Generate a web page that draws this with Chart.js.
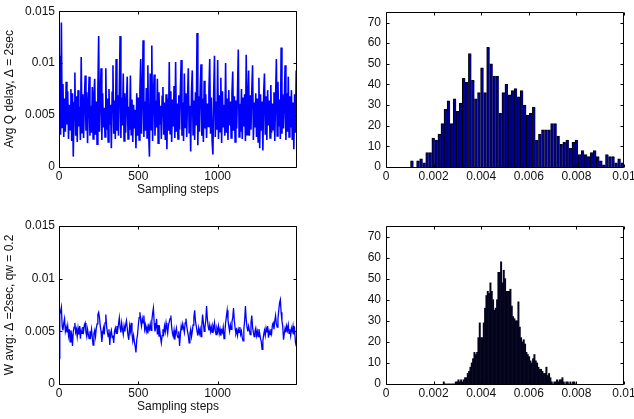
<!DOCTYPE html>
<html><head><meta charset="utf-8">
<script src="https://cdn.jsdelivr.net/npm/chart.js@4.4.1/dist/chart.umd.min.js"></script>
<style>
html,body{margin:0;padding:0;background:#fff;width:634px;height:419px;overflow:hidden;position:relative}
canvas{position:absolute}
</style></head><body>
<canvas id="tl" width="320" height="200" style="left:0;top:0"></canvas>
<canvas id="tr" width="330" height="200" style="left:320px;top:0"></canvas>
<canvas id="bl" width="320" height="209" style="left:0;top:210px"></canvas>
<canvas id="br" width="330" height="209" style="left:320px;top:210px"></canvas>
<script>
// ---------- DATA ----------
const STEP_STRIDE = 5; // each stored sample represents 5 sampling steps
const TIME_MAX = 1500;
const timeTicks = [0, 500, 1000];
const timeTickLabels = ['0', '500', '1000'];
const delayTicks = [0, 0.005, 0.01, 0.015];
const delayTickLabels = ['0', '0.005', '0.01', '0.015'];
const histXTicks = [0, 0.002, 0.004, 0.006, 0.008, 0.01];
const histXTickLabels = ['0', '0.002', '0.004', '0.006', '0.008', '0.01'];
const histYTicks = [0, 10, 20, 30, 40, 50, 60, 70];
const histYTickLabels = ['0', '10', '20', '30', '40', '50', '60', '70'];

const avgQDelay = [
0.0052,0.0107,0.0031,0.0139,0.0038,0.0080,0.0029,0.0066,0.0034,0.0082,
0.0041,0.0073,0.0027,0.0060,0.0036,0.0075,0.0025,0.0071,0.0010,0.0062,
0.0091,0.0030,0.0068,0.0024,0.0074,0.0039,0.0058,0.0026,0.0106,0.0033,
0.0070,0.0028,0.0064,0.0088,0.0035,0.0072,0.0023,0.0061,0.0087,0.0030,
0.0059,0.0033,0.0077,0.0027,0.0069,0.0085,0.0031,0.0063,0.0022,0.0074,
0.0126,0.0034,0.0068,0.0095,0.0026,0.0071,0.0038,0.0057,0.0029,0.0095,
0.0036,0.0066,0.0024,0.0075,0.0041,0.0060,0.0018,0.0072,0.0098,0.0032,
0.0064,0.0027,0.0104,0.0035,0.0069,0.0030,0.0073,0.0126,0.0028,0.0067,
0.0040,0.0090,0.0025,0.0071,0.0033,0.0062,0.0087,0.0027,0.0058,0.0036,
0.0088,0.0031,0.0065,0.0024,0.0060,0.0037,0.0055,0.0018,0.0071,0.0030,
0.0067,0.0026,0.0074,0.0104,0.0032,0.0069,0.0122,0.0029,0.0063,0.0035,
0.0076,0.0028,0.0098,0.0033,0.0010,0.0090,0.0036,0.0117,0.0025,0.0070,
0.0089,0.0030,0.0064,0.0038,0.0085,0.0023,0.0072,0.0041,0.0059,0.0027,
0.0068,0.0077,0.0031,0.0062,0.0026,0.0070,0.0017,0.0066,0.0035,0.0101,
0.0032,0.0073,0.0024,0.0065,0.0039,0.0078,0.0028,0.0101,0.0034,0.0061,
0.0027,0.0069,0.0036,0.0074,0.0103,0.0030,0.0062,0.0025,0.0090,0.0038,
0.0071,0.0029,0.0065,0.0095,0.0033,0.0059,0.0015,0.0073,0.0093,0.0031,
0.0064,0.0026,0.0072,0.0040,0.0129,0.0021,0.0068,0.0034,0.0075,0.0099,
0.0030,0.0066,0.0024,0.0083,0.0037,0.0070,0.0028,0.0061,0.0039,0.0074,
0.0104,0.0032,0.0067,0.0025,0.0012,0.0071,0.0107,0.0029,0.0063,0.0036,
0.0103,0.0027,0.0069,0.0034,0.0086,0.0023,0.0073,0.0038,0.0060,0.0030,
0.0100,0.0033,0.0066,0.0026,0.0074,0.0040,0.0063,0.0028,0.0071,0.0092,
0.0035,0.0068,0.0024,0.0064,0.0037,0.0072,0.0113,0.0029,0.0061,0.0034,
0.0075,0.0027,0.0067,0.0039,0.0070,0.0025,0.0108,0.0031,0.0065,0.0093,
0.0030,0.0069,0.0036,0.0074,0.0098,0.0026,0.0062,0.0038,0.0071,0.0029,
0.0066,0.0024,0.0086,0.0018,0.0070,0.0035,0.0063,0.0016,0.0072,0.0090,
0.0031,0.0068,0.0026,0.0074,0.0040,0.0064,0.0028,0.0079,0.0033,0.0061,
0.0036,0.0072,0.0025,0.0067,0.0104,0.0030,0.0082,0.0039,0.0065,0.0027,
0.0115,0.0032,0.0070,0.0037,0.0063,0.0098,0.0026,0.0071,0.0034,0.0087,
0.0029,0.0068,0.0038,0.0074,0.0026,0.0062,0.0017,0.0070,0.0033,0.0093
];

const wAvgDelay = [
0.0024,0.0066,0.0069,0.0073,0.0055,0.0051,0.0058,0.0062,0.0050,0.0054,
0.0049,0.0055,0.0046,0.0052,0.0040,0.0051,0.0047,0.0036,0.0050,0.0054,
0.0058,0.0049,0.0052,0.0045,0.0053,0.0047,0.0055,0.0043,0.0051,0.0048,
0.0054,0.0050,0.0056,0.0058,0.0049,0.0045,0.0052,0.0047,0.0043,0.0050,
0.0046,0.0052,0.0044,0.0037,0.0048,0.0051,0.0045,0.0053,0.0057,0.0066,
0.0068,0.0063,0.0055,0.0050,0.0040,0.0048,0.0053,0.0047,0.0058,0.0066,
0.0055,0.0049,0.0045,0.0052,0.0037,0.0048,0.0051,0.0044,0.0046,0.0039,
0.0050,0.0053,0.0048,0.0055,0.0051,0.0057,0.0063,0.0054,0.0049,0.0058,
0.0052,0.0047,0.0055,0.0050,0.0056,0.0060,0.0053,0.0046,0.0042,0.0055,
0.0050,0.0058,0.0048,0.0041,0.0046,0.0040,0.0036,0.0030,0.0042,0.0047,
0.0056,0.0063,0.0068,0.0060,0.0055,0.0062,0.0058,0.0065,0.0052,0.0056,
0.0050,0.0054,0.0048,0.0055,0.0052,0.0057,0.0051,0.0060,0.0067,0.0072,
0.0058,0.0050,0.0054,0.0062,0.0047,0.0056,0.0045,0.0051,0.0044,0.0039,
0.0046,0.0052,0.0048,0.0055,0.0050,0.0058,0.0053,0.0048,0.0056,0.0059,
0.0062,0.0065,0.0054,0.0048,0.0045,0.0051,0.0042,0.0049,0.0053,0.0046,
0.0044,0.0050,0.0036,0.0047,0.0055,0.0051,0.0057,0.0053,0.0049,0.0058,
0.0062,0.0055,0.0050,0.0046,0.0039,0.0048,0.0052,0.0045,0.0050,0.0056,
0.0063,0.0070,0.0060,0.0055,0.0050,0.0046,0.0053,0.0048,0.0052,0.0045,
0.0055,0.0066,0.0058,0.0050,0.0054,0.0060,0.0074,0.0062,0.0055,0.0051,
0.0056,0.0050,0.0054,0.0049,0.0055,0.0052,0.0058,0.0051,0.0047,0.0053,
0.0050,0.0055,0.0048,0.0052,0.0046,0.0051,0.0049,0.0054,0.0043,0.0048,
0.0058,0.0064,0.0070,0.0061,0.0055,0.0050,0.0056,0.0052,0.0059,0.0063,
0.0072,0.0060,0.0053,0.0048,0.0051,0.0046,0.0052,0.0049,0.0054,0.0047,
0.0050,0.0044,0.0041,0.0052,0.0060,0.0074,0.0061,0.0054,0.0050,0.0055,
0.0051,0.0047,0.0058,0.0065,0.0054,0.0049,0.0045,0.0050,0.0053,0.0046,
0.0050,0.0045,0.0052,0.0048,0.0043,0.0040,0.0033,0.0041,0.0047,0.0051,
0.0046,0.0053,0.0049,0.0055,0.0044,0.0050,0.0047,0.0052,0.0048,0.0056,
0.0058,0.0052,0.0060,0.0065,0.0057,0.0054,0.0062,0.0070,0.0077,0.0080,
0.0068,0.0060,0.0055,0.0042,0.0048,0.0053,0.0049,0.0055,0.0051,0.0056,
0.0048,0.0052,0.0046,0.0053,0.0050,0.0055,0.0047,0.0051,0.0040,0.0036
];

const histTopStart = 0.00103, histTopWidth = 0.000128;
const histTopCounts = [
3,0,3,4,2,7,7,14,13,16,
21,28,32,21,33,27,31,43,41,55,
42,33,36,48,36,58,50,44,44,26,
36,40,35,37,38,34,37,30,25,26,
29,13,16,18,18,18,21,21,15,11,
12,13,9,12,13,6,8,6,5,7,
8,5,3,1,6,5,5,2,4,2
];

const histBottomStart = 0.0024, histBottomWidth = 0.000056;
const histBottomCounts = [
1,0,0,0,0,0,0,0,0,1,
1,2,1,2,1,2,3,3,5,6,
8,10,12,15,14,15,22,29,22,22,
29,36,42,44,43,48,44,40,35,36,
40,53,53,58,48,54,50,44,44,44,
45,37,32,31,30,30,39,27,22,20,
21,19,15,14,13,11,10,12,14,11,
10,8,7,7,6,5,5,8,4,5,
3,1,0,1,1,2,1,2,2,3,
1,0,1,1,0,1,0,1,1,0
];

// ---------- CHART SETUP ----------
Chart.defaults.font.family = '"Liberation Sans", Arial, Helvetica, sans-serif';
Chart.defaults.font.size = 12;
Chart.defaults.color = '#111';

const boxPlugin = {
  id: 'matlabBox',
  afterDraw(chart) {
    const {ctx, chartArea: a, scales} = chart;
    const x = scales.x, y = scales.y;
    ctx.save();
    ctx.strokeStyle = '#000';
    ctx.lineWidth = 1;
    const L = Math.round(a.left) + 0.5, R = Math.round(a.right) - 0.5;
    const T = Math.round(a.top) + 0.5, B = Math.round(a.bottom) + 0.5;
    ctx.beginPath();
    ctx.rect(L, T, R - L, B - T);
    const tl = 3;
    x.ticks.forEach((t, i) => {
      const px = Math.round(x.getPixelForTick(i)) + 0.5;
      ctx.moveTo(px, B); ctx.lineTo(px, B - tl);
      ctx.moveTo(px, T); ctx.lineTo(px, T + tl);
    });
    y.ticks.forEach((t, i) => {
      const py = Math.round(y.getPixelForTick(i)) + 0.5;
      ctx.moveTo(L, py); ctx.lineTo(L + tl, py);
      ctx.moveTo(R, py); ctx.lineTo(R - tl, py);
    });
    ctx.stroke();
    ctx.restore();
  }
};

function axisX(min, max, ticks, labels, height, title, titlePadBottom) {
  const o = {
    type: 'linear', min, max, offset: false,
    grid: {display: false, drawTicks: false, offset: false},
    border: {display: false},
    afterBuildTicks: s => { s.ticks = ticks.map(v => ({value: v})); },
    afterFit: s => { s.height = height; },
    ticks: {padding: 2, autoSkip: false, maxRotation: 0, minRotation: 0,
            callback: (v, i) => labels[i]}
  };
  if (title) o.title = {display: true, text: title, color: '#111', padding: {top: 0, bottom: titlePadBottom}};
  return o;
}
function axisY(min, max, ticks, labels, width, pad, title) {
  const o = {
    type: 'linear', min, max,
    grid: {display: false, drawTicks: false},
    border: {display: false},
    afterBuildTicks: s => { s.ticks = ticks.map(v => ({value: v})); },
    afterFit: s => { s.width = width; },
    ticks: {padding: pad, autoSkip: false, callback: (v, i) => labels[i]}
  };
  if (title) o.title = {display: true, text: title, color: '#111', padding: {top: 2, bottom: 0}};
  return o;
}
const common = {
  responsive: false, animation: false, devicePixelRatio: 1,
  plugins: {legend: {display: false}, tooltip: {enabled: false}}
};

function lineChart(id, series, yTitle, padTop, xHeight, titlePadBottom, lw) {
  return new Chart(document.getElementById(id), {
    type: 'line',
    data: {
      labels: series.map((_, i) => i * STEP_STRIDE),
      datasets: [{data: series, borderColor: '#0000ff', borderWidth: lw,
                  pointRadius: 0, tension: 0, fill: false, borderJoinStyle: 'miter'}]
    },
    options: Object.assign({}, common, {
      layout: {padding: {top: padTop, right: 23, left: 0, bottom: 0}},
      scales: {
        x: axisX(0, TIME_MAX, timeTicks, timeTickLabels, xHeight, 'Sampling steps', titlePadBottom),
        y: axisY(0, 0.015, delayTicks, delayTickLabels, 59, 4, yTitle)
      }
    }),
    plugins: [boxPlugin]
  });
}

function histChart(id, counts, start, width, fill, border, padTop, xHeight) {
  return new Chart(document.getElementById(id), {
    type: 'bar',
    data: {
      datasets: [{
        data: counts.map((c, i) => ({x: start + (i + 0.5) * width, y: c})),
        backgroundColor: fill,
        borderColor: '#000',
        borderWidth: border,
        borderSkipped: false,
        barPercentage: 1, categoryPercentage: 1
      }]
    },
    options: Object.assign({}, common, {
      layout: {padding: {top: padTop, right: 26, left: 0, bottom: 0}},
      scales: {
        x: axisX(0, 0.01, histXTicks, histXTickLabels, xHeight, null, 0),
        y: axisY(0, 75, histYTicks, histYTickLabels, 66, 5, null)
      }
    }),
    plugins: [boxPlugin]
  });
}

lineChart('tl', avgQDelay, 'Avg Q delay, \u0394 = 2sec', 9, 33, 3, 1.6);
lineChart('bl', wAvgDelay, 'W avrg: \u0394 =2sec, qw = 0.2', 16, 35, 5, 1.3);
histChart('tr', histTopCounts, histTopStart, histTopWidth, '#00008f', {top: 1, left: 1, right: 0, bottom: 0}, 9, 33);
histChart('br', histBottomCounts, histBottomStart, histBottomWidth, '#04041c', 0, 16, 35);
</script>
</body></html>
